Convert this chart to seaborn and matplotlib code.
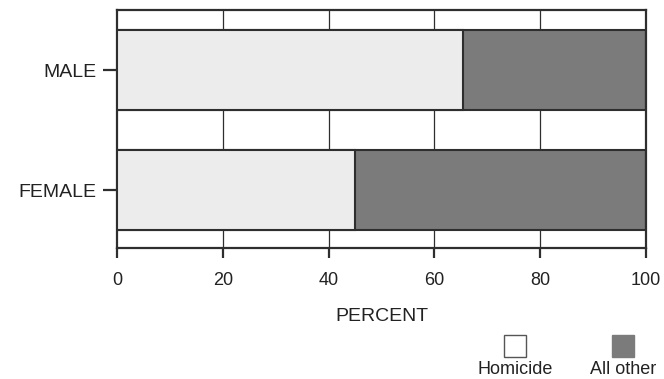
import matplotlib
matplotlib.use("Agg")
import matplotlib.pyplot as plt
import seaborn as sns
import pandas as pd
from matplotlib.patches import Rectangle

categories = ["MALE", "FEMALE"]
homicide = [65.5, 45.0]
all_other = [34.5, 55.0]
xticks = [0, 20, 40, 60, 80, 100]
series_names = ["Homicide", "All other"]

light = "#ececec"
dark = "#7b7b7b"
edge = "#2e2e2e"

sns.set_theme(style="white")
plt.rcParams["font.family"] = ["Liberation Sans", "DejaVu Sans"]

df = pd.DataFrame({
    "sex": categories,
    "homicide": homicide,
    "total": [h + o for h, o in zip(homicide, all_other)],
})

fig = plt.figure(figsize=(6.64, 3.79), dpi=100)
ax = fig.add_axes([117 / 664, 1 - 248 / 379, (646 - 117) / 664, (248 - 10) / 379])

for x in xticks[1:-1]:
    ax.axvline(x, color=edge, lw=0.9, zorder=0)

sns.barplot(data=df, x="total", y="sex", orient="h", color=dark, width=0.66,
            edgecolor=edge, linewidth=1.5, saturation=1, ax=ax, zorder=2)
sns.barplot(data=df, x="homicide", y="sex", orient="h", color=light, width=0.66,
            edgecolor=edge, linewidth=1.5, saturation=1, ax=ax, zorder=3)

ax.set_xlim(0, 100)
ax.set_ylim(1.483, -0.5)
ax.set_xticks(xticks)
ax.set_xticklabels([str(v) for v in xticks], fontsize=13, color="#222222")
ax.tick_params(axis="y", labelsize=14, labelcolor="#222222")
ax.tick_params(axis="both", direction="out", width=1.6, color=edge,
               bottom=True, left=True)
ax.tick_params(axis="x", length=7, pad=10)
ax.tick_params(axis="y", length=10, pad=5)
ax.set_xlabel("PERCENT", fontsize=14, color="#222222", labelpad=14)
ax.set_ylabel("")
for s in ax.spines.values():
    s.set_color(edge)
    s.set_linewidth(1.6)
    s.set_visible(True)

# legend
sq = 22
items = [(series_names[0], "white", 515), (series_names[1], dark, 623)]
for name, col, cx in items:
    fig.patches.append(Rectangle(((cx - sq / 2) / 664, 1 - 357 / 379), sq / 664, sq / 379,
                                 transform=fig.transFigure, facecolor=col,
                                 edgecolor="#555555" if col == "white" else dark, lw=1))
    fig.text(cx / 664, 1 - 369 / 379, name, ha="center", va="center", fontsize=13,
             color="#222222")

fig.savefig("out.png", dpi=100)
